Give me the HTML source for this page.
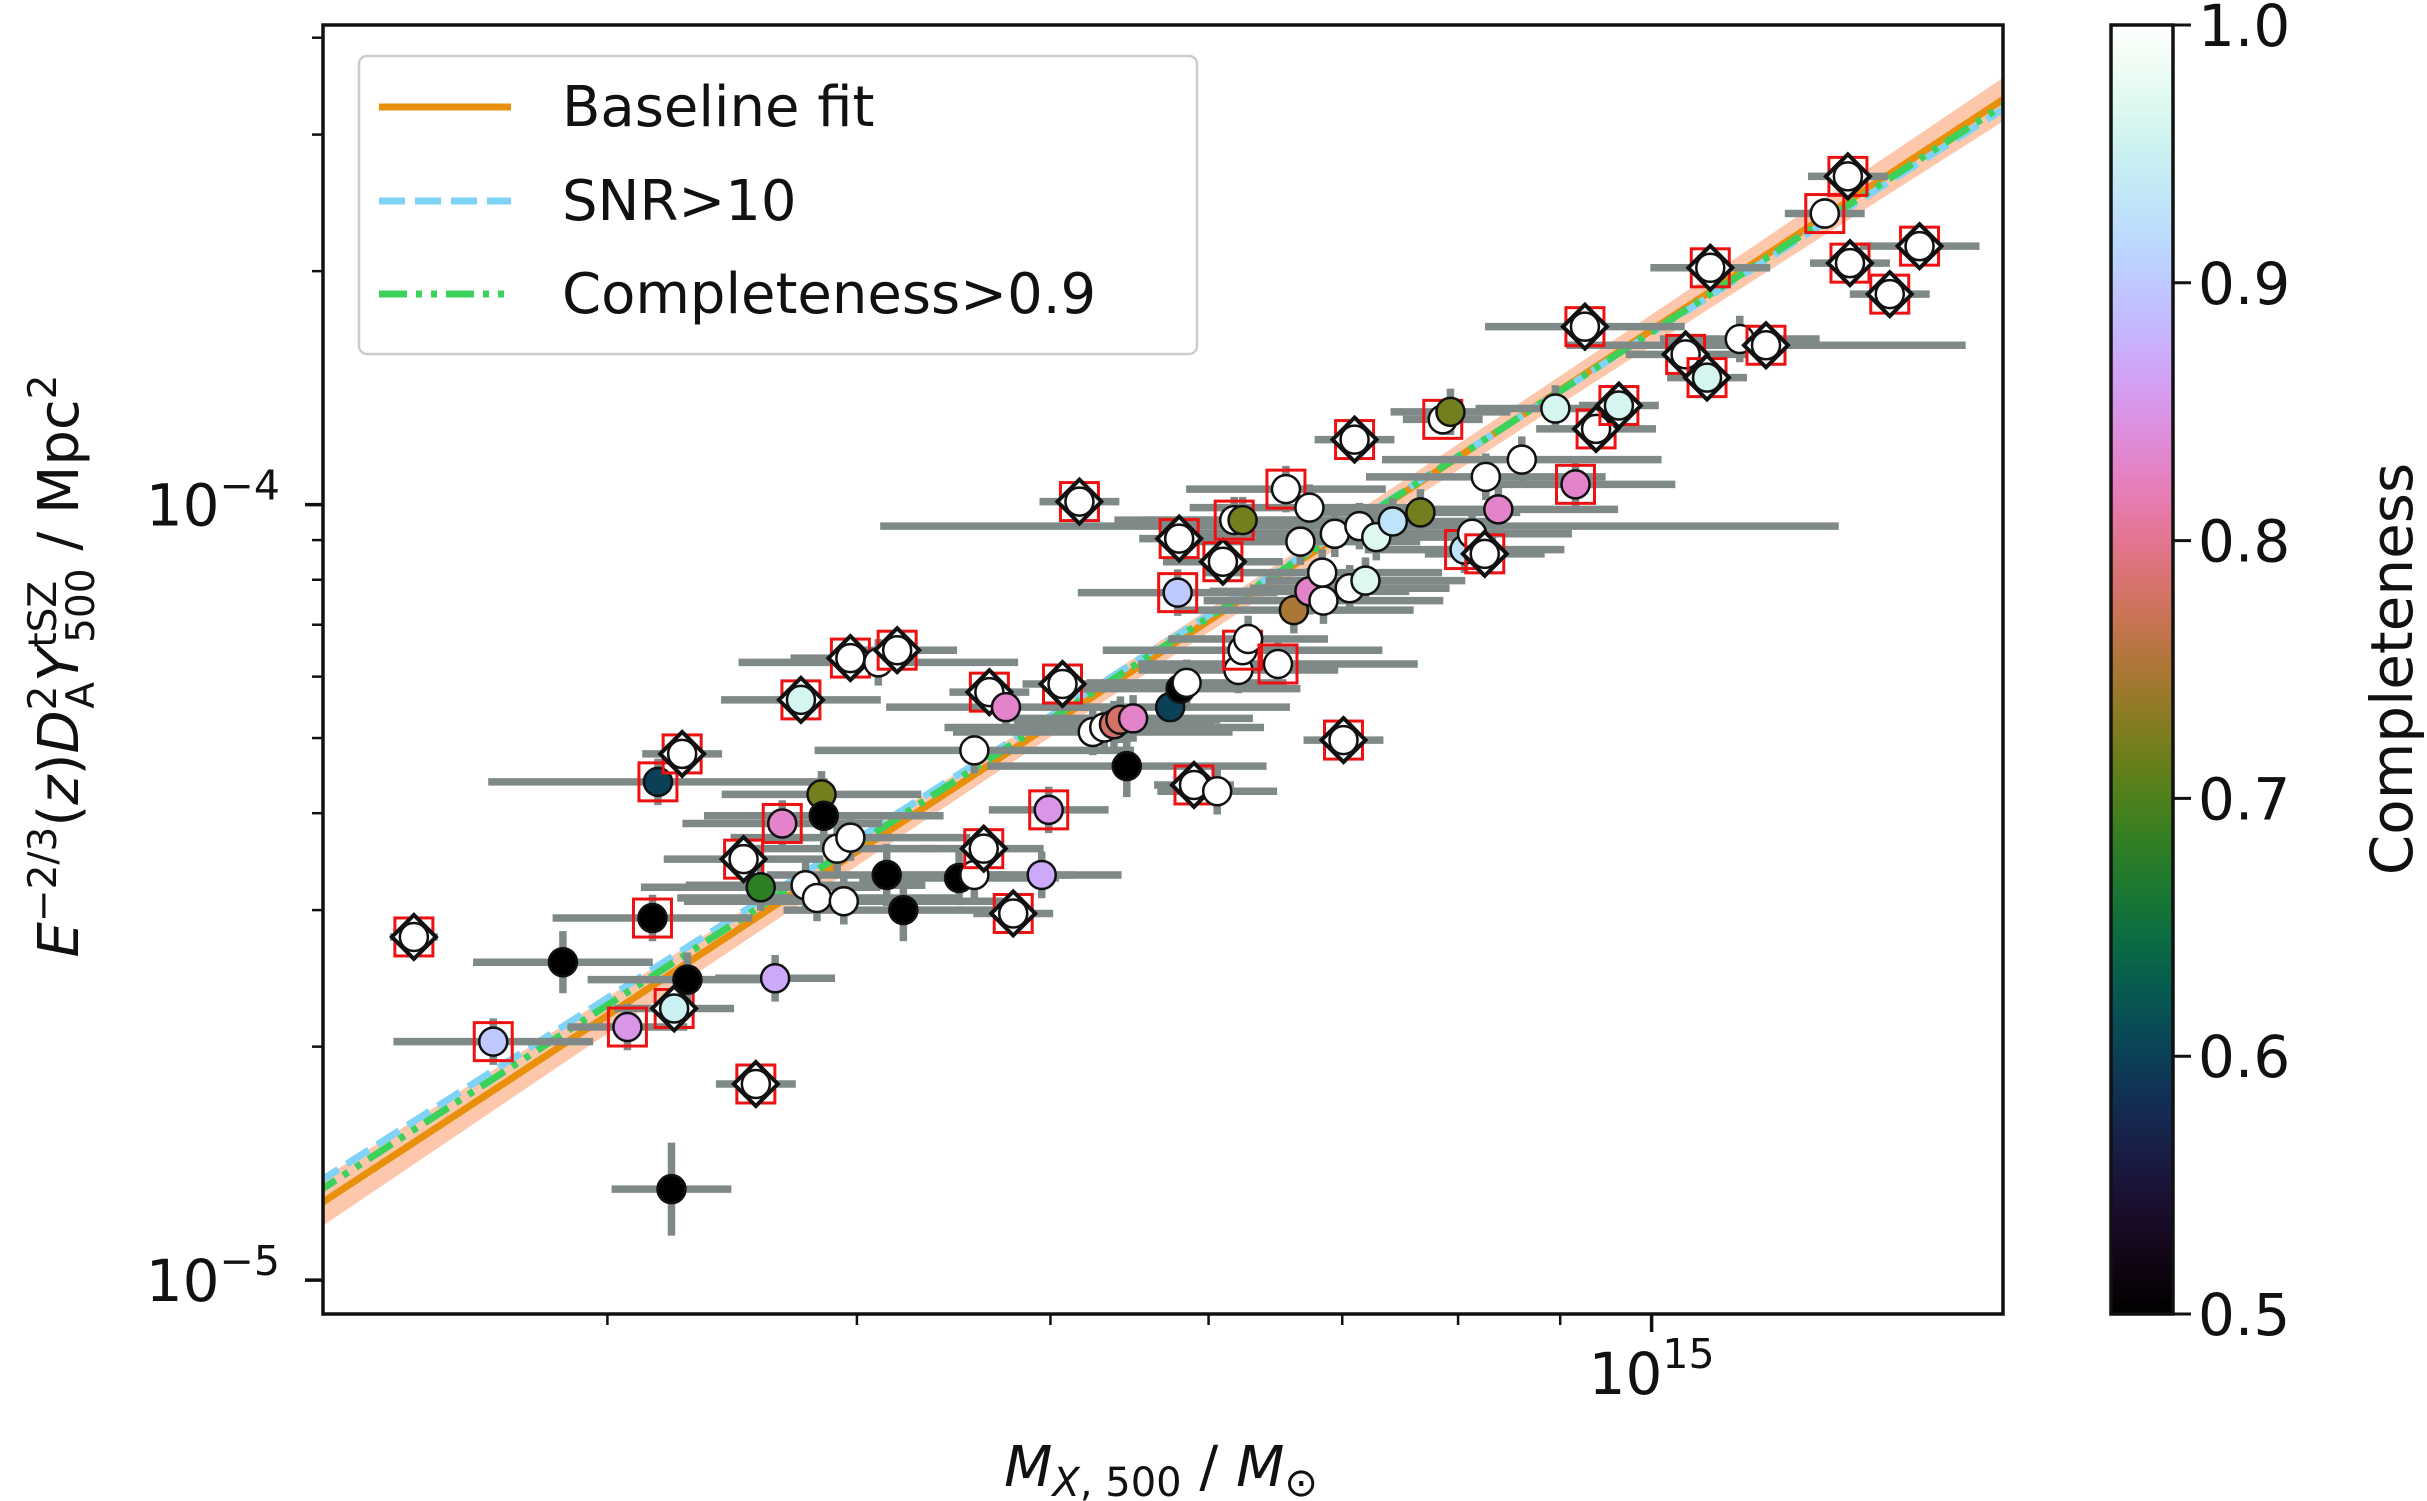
<!DOCTYPE html>
<html><head><meta charset="utf-8">
<style>
html,body{margin:0;padding:0;background:#fff;}
svg{display:block;font-family:"DejaVu Sans","Liberation Sans",sans-serif;}
</style></head>
<body>
<svg id="chart" width="2427" height="1501" viewBox="0 0 2427 1501" xmlns="http://www.w3.org/2000/svg">
<defs>
<clipPath id="plotclip"><rect x="323" y="25" width="1680" height="1289"/></clipPath>
<linearGradient id="cbgrad" x1="0" y1="1" x2="0" y2="0"></linearGradient>
</defs>
<g id="plot"></g>
</svg>
<script>
// ---- data (mass in 1e14 Msun, Y in 1e-5 Mpc^2) ----
const mass = [2.40,2.63,2.85,3.07,3.16,3.18,3.24,3.27,3.29,3.23,
3.51,3.56,3.58,3.64,3.67,3.75,3.77,3.84,3.85,3.82,
3.91,3.94,3.97,3.97,4.10,4.19,4.14,4.22,4.50,4.58,
4.58,4.63,4.66,4.75,4.79,4.95,4.99,5.07,5.17,5.25,
5.32,5.38,5.42,5.50,5.46,5.74,5.81,5.85,5.79,5.80,
5.90,6.06,6.10,6.21,6.24,6.28,6.18,6.24,6.50,6.56,
6.62,6.67,6.74,6.74,6.84,6.85,6.94,7.01,7.06,7.10,
7.14,7.19,7.28,7.42,7.66,7.86,7.93,8.06,8.13,8.25,
8.26,8.38,8.61,8.95,9.16,9.26,9.38,9.63,10.40,10.66,
10.70,11.07,11.41,12.21,12.54,12.57,13.16,13.62];
const ysz = [2.77,2.03,2.57,2.12,2.93,4.39,2.24,4.77,2.44,1.31,
3.49,1.79,3.21,2.45,3.88,5.60,3.23,4.23,3.97,3.11,
3.60,3.08,3.72,6.34,6.26,6.49,3.33,3.00,3.30,4.82,
3.33,3.60,5.73,5.48,2.97,3.33,4.04,5.87,10.09,5.09,
5.16,5.21,5.28,5.30,4.60,5.48,5.79,5.89,7.70,9.04,
4.35,4.27,8.44,6.12,6.49,6.71,9.55,9.55,6.23,10.47,
7.31,8.96,7.73,9.91,8.17,7.52,9.17,4.97,7.80,12.13,
9.38,7.98,9.08,9.51,9.77,12.88,13.17,8.75,9.17,8.64,
10.86,9.86,11.43,13.30,10.62,16.96,12.52,13.42,15.62,14.58,
20.20,16.35,16.05,23.73,26.50,20.48,18.68,21.54];
const completeness = [1.0,0.9,0.5,0.85,0.5,0.6,0.95,1.0,0.5,0.5,
1.0,1.0,0.68,0.87,0.83,0.96,1.0,0.72,0.5,1.0,
1.0,1.0,1.0,1.0,1.0,1.0,0.5,0.5,0.5,1.0,
1.0,1.0,1.0,0.83,1.0,0.87,0.85,1.0,1.0,1.0,
1.0,0.78,0.78,0.83,0.5,0.6,0.5,1.0,0.9,1.0,
1.0,1.0,1.0,1.0,1.0,1.0,1.0,0.72,1.0,1.0,
0.75,1.0,0.83,1.0,1.0,1.0,1.0,1.0,1.0,1.0,
1.0,0.97,0.97,0.93,0.72,1.0,0.72,0.93,1.0,1.0,
1.0,0.83,1.0,0.96,0.83,1.0,1.0,0.96,1.0,0.96,
1.0,1.0,1.0,1.0,1.0,1.0,1.0,1.0];
const xErrDex = [0.012,0.05,0.045,0.03,0.05,0.085,0.03,0.02,0.05,0.03,
0.04,0.02,0.06,0.03,0.05,0.04,0.06,0.05,0.06,0.07,
0.05,0.08,0.06,0.03,0.07,0.03,0.06,0.06,0.05,0.08,
0.05,0.03,0.02,0.06,0.02,0.04,0.03,0.02,0.02,0.07,
0.08,0.05,0.05,0.06,0.07,0.06,0.06,0.05,0.05,0.02,
0.02,0.03,0.03,0.05,0.07,0.04,0.06,0.05,0.07,0.05,
0.06,0.06,0.05,0.06,0.06,0.06,0.08,0.02,0.05,0.02,
0.24,0.05,0.06,0.05,0.05,0.02,0.03,0.05,0.05,0.03,
0.06,0.06,0.07,0.04,0.05,0.05,0.03,0.02,0.03,0.02,
0.03,0.04,0.1,0.02,0.02,0.02,0.02,0.03];
const yErrDex = [0.015,0.03,0.04,0.03,0.03,0.03,0.02,0.015,0.035,0.06,
0.02,0.02,0.03,0.03,0.03,0.02,0.03,0.03,0.04,0.03,
0.03,0.03,0.03,0.02,0.03,0.02,0.04,0.04,0.035,0.03,
0.03,0.02,0.02,0.03,0.02,0.03,0.03,0.02,0.015,0.03,
0.03,0.03,0.03,0.03,0.04,0.03,0.03,0.03,0.03,0.02,
0.02,0.03,0.02,0.03,0.03,0.03,0.03,0.03,0.03,0.03,
0.03,0.03,0.03,0.03,0.03,0.03,0.03,0.02,0.03,0.02,
0.03,0.03,0.03,0.03,0.03,0.02,0.03,0.03,0.03,0.02,
0.03,0.03,0.03,0.03,0.03,0.02,0.02,0.02,0.02,0.02,
0.02,0.03,0.02,0.02,0.015,0.02,0.02,0.02];
const squareIdx = [1,2,4,5,6,7,8,11,12,15,16,24,26,32,33,35,37,38,39,49,50,51,53,55,57,59,60,68,70,76,78,80,85,86,87,88,89,90,91,93,94,95,96,97,98];
const diamondIdx = [1,7,8,11,12,16,24,26,32,33,35,38,39,50,51,53,68,70,80,86,87,88,89,90,91,93,95,96,97,98];
// fits: Y = A * (M/6e14)^B  (A in 1e-5)
const fitNames = ["Baseline fit","SNR>10","Completeness>0.9"];
const fitA = [7.08,7.2,7.15];
const fitB = [1.69,1.64,1.66];
const bandAerr = 0.035, bandBerr = 0.06;
const cbTicks = [0.5,0.6,0.7,0.8,0.9,1.0];
const cbTickLabels = ["0.5","0.6","0.7","0.8","0.9","1.0"];

// ---- axes ----
const L=323,R=2003,T=25,B=1314;
function xS(m){return 1651.6+(Math.log10(m)-1)*1997;}
function yS(y){return 504.6-(Math.log10(y)-1)*775.5;}
function cubehelix(c){
  let f=(c-0.5)/0.5; f=Math.max(0,Math.min(1,f));
  const ang=2*Math.PI*(0.5/3+1-1.5*f), amp=1.35*f*(1-f)/2;
  const co=Math.cos(ang), si=Math.sin(ang);
  let r=f+amp*(-0.14861*co+1.78277*si), g=f+amp*(-0.29227*co-0.90649*si), b=f+amp*(1.97294*co);
  const cl=v=>Math.round(255*Math.max(0,Math.min(1,v)));
  return `rgb(${cl(r)},${cl(g)},${cl(b)})`;
}
const NS="http://www.w3.org/2000/svg";
const svg=document.getElementById('chart');
function mk(tag,attrs,parent){const e=document.createElementNS(NS,tag);for(const k in attrs)e.setAttribute(k,attrs[k]);(parent||svg).appendChild(e);return e;}

const grad=document.getElementById('cbgrad');
for(let i=0;i<=40;i++){const c=0.5+i*0.0125;mk('stop',{offset:(i/40),'stop-color':cubehelix(c)},grad);}

const plot=document.getElementById('plot');
mk('rect',{x:L,y:T,width:R-L,height:B-T,fill:'#fff'},plot);
const clipG=mk('g',{'clip-path':'url(#plotclip)'},plot);



const mLo=2.0,mHi=16;
const xsSample=[];for(let i=0;i<=40;i++)xsSample.push(mLo*Math.pow(mHi/mLo,i/40));
let up=[],lo=[];
xsSample.forEach(m=>{const l=Math.log10(m/6);
  const v0=Math.log10(fitA[0])+fitB[0]*l;
  const d=Math.sqrt(Math.pow(Math.log10(1+bandAerr),2)+Math.pow(bandBerr*l,2));
  up.push([xS(m),yS(Math.pow(10,v0+d))]);lo.push([xS(m),yS(Math.pow(10,v0-d))]);});
const pts=up.concat(lo.reverse()).map(p=>p[0].toFixed(1)+','+p[1].toFixed(1)).join(' ');
const band=mk('polygon',{points:pts,fill:'#fbb48f','fill-opacity':0.75},clipG);



const fitColors=['#e8900c','#7fd3f7','#3bd15a'];
const fitDash=['none','26,10','28,9,6,9,6,9'];
const fitKeys=['baseline-fit-line','snr10-fit-line','completeness09-fit-line'];
for(let k=0;k<3;k++){
  const d=xsSample.map((m,i)=>(i?'L':'M')+xS(m).toFixed(1)+','+yS(fitA[k]*Math.pow(m/6,fitB[k])).toFixed(1)).join(' ');
  const p=mk('path',{d:d,fill:'none',stroke:fitColors[k],'stroke-width':7,'stroke-dasharray':fitDash[k]},clipG);
  
  
}
const eg=mk('g',{stroke:'#7f8a88','stroke-width':7.5},clipG);


for(let i=0;i<mass.length;i++){
  const x=xS(mass[i]),y=yS(ysz[i]);
  const f=Math.pow(10,xErrDex[i]),g=Math.pow(10,yErrDex[i]);
  const h=mk('line',{x1:xS(mass[i]/f),x2:xS(mass[i]*f),y1:y,y2:y},eg);
  
  
  const v=mk('line',{x1:x,x2:x,y1:yS(ysz[i]/g),y2:yS(ysz[i]*g)},eg);
  
  
}
const sqSet=new Set(squareIdx),diSet=new Set(diamondIdx);
for(let i=0;i<mass.length;i++){
  const x=xS(mass[i]),y=yS(ysz[i]);
  if(sqSet.has(i+1)){const s=mk('rect',{x:x-19,y:y-19,width:38,height:38,fill:'none',stroke:'#ee1111','stroke-width':3},clipG);
    
    }
  if(diSet.has(i+1)){const dm=mk('polygon',{points:`${x},${y-22} ${x+22},${y} ${x},${y+22} ${x-22},${y}`,fill:'#fff',stroke:'#111','stroke-width':4},clipG);
    
    }
  const c=mk('circle',{cx:x,cy:y,r:14,fill:cubehelix(completeness[i]),stroke:'#111','stroke-width':2.5},clipG);
  
  
}
const fr=mk('rect',{x:L,y:T,width:R-L,height:B-T,fill:'none',stroke:'#111','stroke-width':3.5},plot);



const yt=mk('g',{stroke:'#111','stroke-width':2.5},plot);


[1,10].forEach(v=>{mk('line',{x1:L-18,x2:L,y1:yS(v),y2:yS(v),'stroke-width':3.5},yt);});
[2,3,4,5,6,7,8,9,20,30,40].forEach(v=>{mk('line',{x1:L-11,x2:L,y1:yS(v),y2:yS(v)},yt);});
[[1,'−5'],[10,'−4']].forEach(([v,e])=>{
  const t=mk('text',{x:280,y:yS(v)+21,'text-anchor':'end','font-size':58,fill:'#111'},plot);
  
  
  t.innerHTML=`10<tspan dy="-26" font-size="41">${e}</tspan>`;
});
const xt=mk('g',{stroke:'#111','stroke-width':2.5},plot);


[3,4,5,6,7,8,9].forEach(v=>mk('line',{x1:xS(v),x2:xS(v),y1:B,y2:B+11},xt));
mk('line',{x1:xS(10),x2:xS(10),y1:B,y2:B+18,'stroke-width':3.5},xt);
const xl=mk('text',{x:xS(10),y:1394,'text-anchor':'middle','font-size':58,fill:'#111'},plot);


xl.innerHTML='10<tspan dy="-26" font-size="41">15</tspan>';

const xtit=mk('text',{x:1161,y:1486,'text-anchor':'middle','font-size':56,fill:'#111'},svg);


xtit.innerHTML='<tspan font-style="italic">M</tspan><tspan font-size="40" font-style="italic" dy="10">X</tspan><tspan font-size="40" dy="0">, 500</tspan><tspan dy="-10"> / </tspan><tspan font-style="italic">M</tspan><tspan font-size="40" dy="10">⊙</tspan>';
const ytit=mk('text',{x:0,y:0,'text-anchor':'middle','font-size':56,fill:'#111',transform:'translate(78,666) rotate(-90)'},svg);


ytit.innerHTML='<tspan font-style="italic">E</tspan><tspan font-size="39" dy="-22">−2/3</tspan><tspan dy="22">(</tspan><tspan font-style="italic">z</tspan>)<tspan font-style="italic">D</tspan><tspan font-size="39" dy="-22">2</tspan><tspan font-size="39" dx="-23" dy="38">A</tspan><tspan font-style="italic" dy="-16">Y</tspan><tspan font-size="39" dy="-22">tSZ</tspan><tspan font-size="39" dx="-62" dy="38">500</tspan><tspan dy="-16"> / Mpc</tspan><tspan font-size="39" dy="-22">2</tspan>';

const lg=mk('g',{},svg);


mk('rect',{x:359,y:56,width:838,height:298,rx:8,fill:'#fff','fill-opacity':0.85,stroke:'#cccccc','stroke-width':2.5},lg);
const legY=[107,201,294];
for(let k=0;k<3;k++){
  const e=mk('g',{},lg);
  
  
  mk('line',{x1:379,x2:511,y1:legY[k],y2:legY[k],stroke:fitColors[k],'stroke-width':7,'stroke-dasharray':fitDash[k]},e);
  const t=mk('text',{x:562,y:legY[k]+19,'font-size':56,fill:'#111'},e);
  t.textContent=fitNames[k];
}

const cb=mk('g',{},svg);


const cT=25,cB=1314,cL=2111,cR=2173;
mk('rect',{x:cL,y:cT,width:cR-cL,height:cB-cT,fill:'url(#cbgrad)',stroke:'#111','stroke-width':3.5},cb);
cbTicks.forEach((v,i)=>{
  const y=cB-(v-0.5)/0.5*(cB-cT);
  mk('line',{x1:cR,x2:cR+18,y1:y,y2:y,stroke:'#111','stroke-width':3},cb);
  const t=mk('text',{x:2198,y:y+21,'font-size':58,fill:'#111'},cb);
  
  
  t.textContent=cbTickLabels[i];
});
const cbt=mk('text',{x:0,y:0,'text-anchor':'middle','font-size':58,fill:'#111',transform:'translate(2412,669) rotate(-90)'},svg);


cbt.textContent='Completeness';
</script>
</body></html>
